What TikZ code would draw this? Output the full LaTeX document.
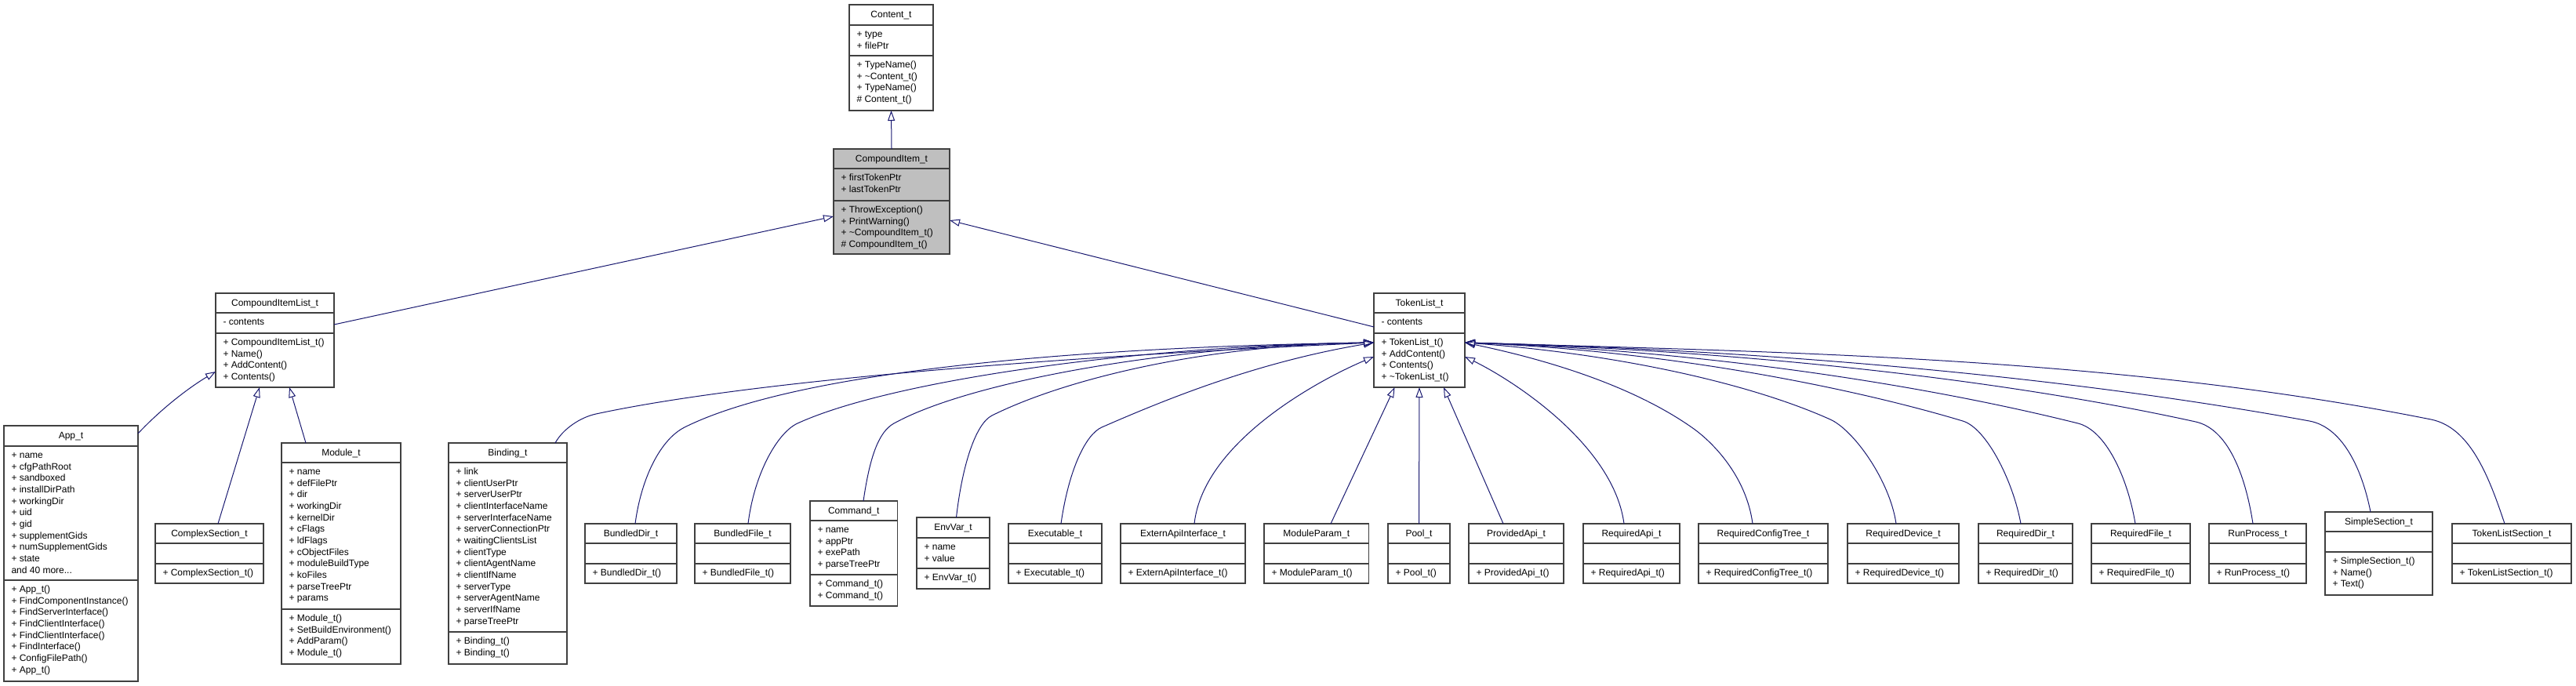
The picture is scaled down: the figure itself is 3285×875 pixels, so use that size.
\documentclass[tikz,border=0pt]{standalone}
\usepackage{fontspec}
\setmainfont{Liberation Sans}
\usetikzlibrary{arrows.meta,calc}
\definecolor{edgec}{HTML}{191970}
\definecolor{boxc}{HTML}{404040}
\definecolor{grayfill}{HTML}{BFBFBF}
\newcommand\mydots{...}
\tikzset{
  txt/.style={font=\fontsize{12}{14.67}\selectfont, inner sep=0pt, outer sep=0pt, text=black},
  clsbox/.style={draw=boxc, line width=1.4pt, inner sep=0pt, outer sep=0pt, anchor=north west},
  clsline/.style={draw=boxc, line width=1.4pt},
  inh/.style={draw=edgec, line width=1pt, -{Triangle[open, length=13pt, width=9pt]}},
}
% #1 name #2 x1 #3 x2 #4 y1 #5 yd1 #6 yd2 #7 y2 #8 fill #9 title
\newcommand\umlclass[9]{%
  \pgfmathsetmacro\bw{#3-#2}%
  \pgfmathsetmacro\bh{#7-#4}%
  \node[clsbox, fill=#8, minimum width=\bw pt, minimum height=\bh pt] (#1) at (#2,#4) {};
  \draw[clsline] (#2,#5) -- (#3,#5);
  \draw[clsline] (#2,#6) -- (#3,#6);
  \node[txt, anchor=base] at ({(#2+#3)/2},{#4+16.5}) {#9};
}
\newcommand\umllines[3]{%
  \foreach \tline [count=\ii] in {#3} {
    \node[txt, anchor=base west] at ({#1+9.5},{#2+15.5+(\ii-1)*14.67}) {\tline};
  }%
}
\begin{document}
\begin{tikzpicture}[x=1pt, y=-1pt]
\useasboundingbox (0,0) rectangle (3285,875);

% ---- top
\umlclass{Content}{1083}{1190}{6}{32}{71}{141}{white}{Content\_t}
\umllines{1083}{32}{+ type, + filePtr}
\umllines{1083}{71}{+ TypeName(), + \textasciitilde Content\_t(), + TypeName(), \# Content\_t()}

\umlclass{CI}{1063}{1211}{190}{215}{256}{324}{grayfill}{CompoundItem\_t}
\umllines{1063}{215}{+ firstTokenPtr, + lastTokenPtr}
\umllines{1063}{256}{+ ThrowException(), + PrintWarning(), + \textasciitilde CompoundItem\_t(), \# CompoundItem\_t()}

% ---- middle
\umlclass{CIL}{275}{426}{374}{399}{425}{494}{white}{CompoundItemList\_t}
\umllines{275}{399}{- contents}
\umllines{275}{425}{+ CompoundItemList\_t(), + Name(), + AddContent(), + Contents()}

\umlclass{TL}{1752}{1868}{374}{399}{425}{494}{white}{TokenList\_t}
\umllines{1752}{399}{- contents}
\umllines{1752}{425}{+ TokenList\_t(), + AddContent(), + Contents(), + \textasciitilde TokenList\_t()}

% ---- bottom row
\umlclass{App}{5}{176}{543}{569}{740}{869}{white}{App\_t}
\umllines{5}{569}{+ name, + cfgPathRoot, + sandboxed, + installDirPath, + workingDir, + uid, + gid, + supplementGids, + numSupplementGids, + state, and 40 more\mydots}
\umllines{5}{740}{+ App\_t(), + FindComponentInstance(), + FindServerInterface(), + FindClientInterface(), + FindClientInterface(), + FindInterface(), + ConfigFilePath(), + App\_t()}

\umlclass{CS}{198}{336}{668}{693}{719}{744}{white}{ComplexSection\_t}
\umllines{198}{719}{+ ComplexSection\_t()}

\umlclass{Module}{359}{511}{565}{590}{777}{847}{white}{Module\_t}
\umllines{359}{590}{+ name, + defFilePtr, + dir, + workingDir, + kernelDir, + cFlags, + ldFlags, + cObjectFiles, + moduleBuildType, + koFiles, + parseTreePtr, + params}
\umllines{359}{777}{+ Module\_t(), + SetBuildEnvironment(), + AddParam(), + Module\_t()}

\umlclass{Binding}{572}{723}{565}{590}{806}{847}{white}{Binding\_t}
\umllines{572}{590}{+ link, + clientUserPtr, + serverUserPtr, + clientInterfaceName, + serverInterfaceName, + serverConnectionPtr, + waitingClientsList, + clientType, + clientAgentName, + clientIfName, + serverType, + serverAgentName, + serverIfName, + parseTreePtr}
\umllines{572}{806}{+ Binding\_t(), + Binding\_t()}

\umlclass{BDir}{746}{863}{668}{693}{719}{744}{white}{BundledDir\_t}
\umllines{746}{719}{+ BundledDir\_t()}

\umlclass{BFile}{886}{1008}{668}{693}{719}{744}{white}{BundledFile\_t}
\umllines{886}{719}{+ BundledFile\_t()}

\umlclass{Cmd}{1033}{1144.5}{639}{664}{733}{773}{white}{Command\_t}
\umllines{1033}{664}{+ name, + appPtr, + exePath, + parseTreePtr}
\umllines{1033}{733}{+ Command\_t(), + Command\_t()}

\umlclass{Env}{1169}{1262}{660}{686}{725}{751}{white}{EnvVar\_t}
\umllines{1169}{686}{+ name, + value}
\umllines{1169}{725}{+ EnvVar\_t()}

\umlclass{Exe}{1286}{1405}{668}{693}{719}{744}{white}{Executable\_t}
\umllines{1286}{719}{+ Executable\_t()}

\umlclass{EAI}{1429}{1588}{668}{693}{719}{744}{white}{ExternApiInterface\_t}
\umllines{1429}{719}{+ ExternApiInterface\_t()}

\umlclass{MP}{1612}{1745.5}{668}{693}{719}{744}{white}{ModuleParam\_t}
\umllines{1612}{719}{+ ModuleParam\_t()}

\umlclass{Pool}{1770}{1849}{668}{693}{719}{744}{white}{Pool\_t}
\umllines{1770}{719}{+ Pool\_t()}

\umlclass{PA}{1873}{1994}{668}{693}{719}{744}{white}{ProvidedApi\_t}
\umllines{1873}{719}{+ ProvidedApi\_t()}

\umlclass{RA}{2019}{2142}{668}{693}{719}{744}{white}{RequiredApi\_t}
\umllines{2019}{719}{+ RequiredApi\_t()}

\umlclass{RCT}{2166}{2331}{668}{693}{719}{744}{white}{RequiredConfigTree\_t}
\umllines{2166}{719}{+ RequiredConfigTree\_t()}

\umlclass{RDev}{2356}{2498}{668}{693}{719}{744}{white}{RequiredDevice\_t}
\umllines{2356}{719}{+ RequiredDevice\_t()}

\umlclass{RDir}{2523}{2643}{668}{693}{719}{744}{white}{RequiredDir\_t}
\umllines{2523}{719}{+ RequiredDir\_t()}

\umlclass{RFile}{2667}{2793}{668}{693}{719}{744}{white}{RequiredFile\_t}
\umllines{2667}{719}{+ RequiredFile\_t()}

\umlclass{RP}{2817}{2941}{668}{693}{719}{744}{white}{RunProcess\_t}
\umllines{2817}{719}{+ RunProcess\_t()}

\umlclass{SS}{2965}{3102}{653}{678}{704}{759}{white}{SimpleSection\_t}
\umllines{2965}{704}{+ SimpleSection\_t(), + Name(), + Text()}

\umlclass{TLS}{3127}{3279}{668}{693}{719}{744}{white}{TokenListSection\_t}
\umllines{3127}{719}{+ TokenListSection\_t()}

% ---- inheritance edges
\draw[inh] (CI.north) -- (Content.south);
\draw[inh] ($(CIL.north east)+(0,40)$) -- ($(CI.north west)+(0,86)$);
\draw[inh] ($(TL.north west)+(0,43)$) -- ($(CI.north east)+(0,91)$);

\draw[inh] ($(App.north east)+(0,10)$) .. controls +(29,-31) and +(-35,21) .. ($(CIL.north west)+(0,100)$);
\draw[inh] ($(CS.north west)+(80,0)$) -- ($(CIL.south west)+(56,0)$);
\draw[inh] ($(Module.north west)+(31,0)$) -- ($(CIL.south west)+(94,0)$);

% left bundle into TokenList_t
\coordinate (EL) at ($(TL.north west)+(0,63)$);
\coordinate (ELlow) at ($(TL.north west)+(0,81)$);
\coordinate (ER) at ($(TL.north east)+(0,63)$);
\coordinate (ERlow) at ($(TL.north east)+(0,81)$);

\draw[inh] ($(Binding.north west)+(136,0)$) .. controls +(10,-18) and +(-20,4.3) .. (760,528) .. controls +(200,-43) and +(-400,18) .. (EL);
\draw[inh] ($(BDir.north west)+(64,0)$) .. controls +(8,-60) and +(-30,15) .. (873,545) .. controls +(150,-75) and +(-350,5) .. (EL);
\draw[inh] ($(BFile.north west)+(68,0)$) .. controls +(8,-65) and +(-25,11.5) .. (1017,540) .. controls +(120,-55) and +(-300,4) .. (EL);
\draw[inh] ($(Cmd.north west)+(68,0)$) .. controls +(8,-55) and +(-20,11) .. (1140,540) .. controls +(100,-55) and +(-250,3) .. (EL);
\draw[inh] ($(Env.north west)+(50.5,0)$) .. controls +(8,-70) and +(-20,10) .. (1265,530) .. controls +(90,-45) and +(-220,3) .. (EL);
\draw[inh] ($(Exe.north west)+(67,0)$) .. controls +(10,-70) and +(-20,8.75) .. (1405,545) .. controls +(80,-35) and +(-150,25) .. (EL);
\draw[inh] ($(EAI.north west)+(94,0)$) .. controls +(12,-108) and +(-60,25) .. (ELlow);

% straight ones below TokenList_t
\draw[inh] ($(MP.north west)+(85,0)$) -- ($(TL.south west)+(26.5,0)$);
\draw[inh] (Pool.north) -- (TL.south);
\draw[inh] ($(PA.north west)+(44,0)$) -- ($(TL.south west)+(89,0)$);

% right bundle into TokenList_t
\draw[inh] ($(RA.north west)+(52,0)$) .. controls +(-13,-98) and +(67,33) .. (ERlow);
\draw[inh] ($(RCT.north west)+(69,0)$) .. controls +(-8,-60) and +(25,18) .. (2160,547) .. controls +(-70,-50) and +(120,25) .. (ER);
\draw[inh] ($(RDev.north west)+(62,0)$) .. controls +(-8,-55) and +(30,13.5) .. (2334,535) .. controls +(-100,-45) and +(200,15) .. (ER);
\draw[inh] ($(RDir.north west)+(54,0)$) .. controls +(-10,-55) and +(30,9) .. (2503,537) .. controls +(-150,-45) and +(250,10) .. (ER);
\draw[inh] ($(RFile.north west)+(56,0)$) .. controls +(-10,-60) and +(35,8.75) .. (2650,540) .. controls +(-200,-50) and +(300,10) .. (ER);
\draw[inh] ($(RP.north west)+(56,0)$) .. controls +(-10,-65) and +(40,8.8) .. (2800,538) .. controls +(-250,-55) and +(350,10) .. (ER);
\draw[inh] ($(SS.north west)+(58,0)$) .. controls +(-12,-60) and +(40,7.3) .. (2945,537) .. controls +(-300,-55) and +(400,10) .. (ER);
\draw[inh] ($(TLS.north west)+(67,0)$) .. controls +(-20,-60) and +(50,10) .. (3100,535) .. controls +(-400,-80) and +(400,12) .. (ER);
\end{tikzpicture}
\end{document}
